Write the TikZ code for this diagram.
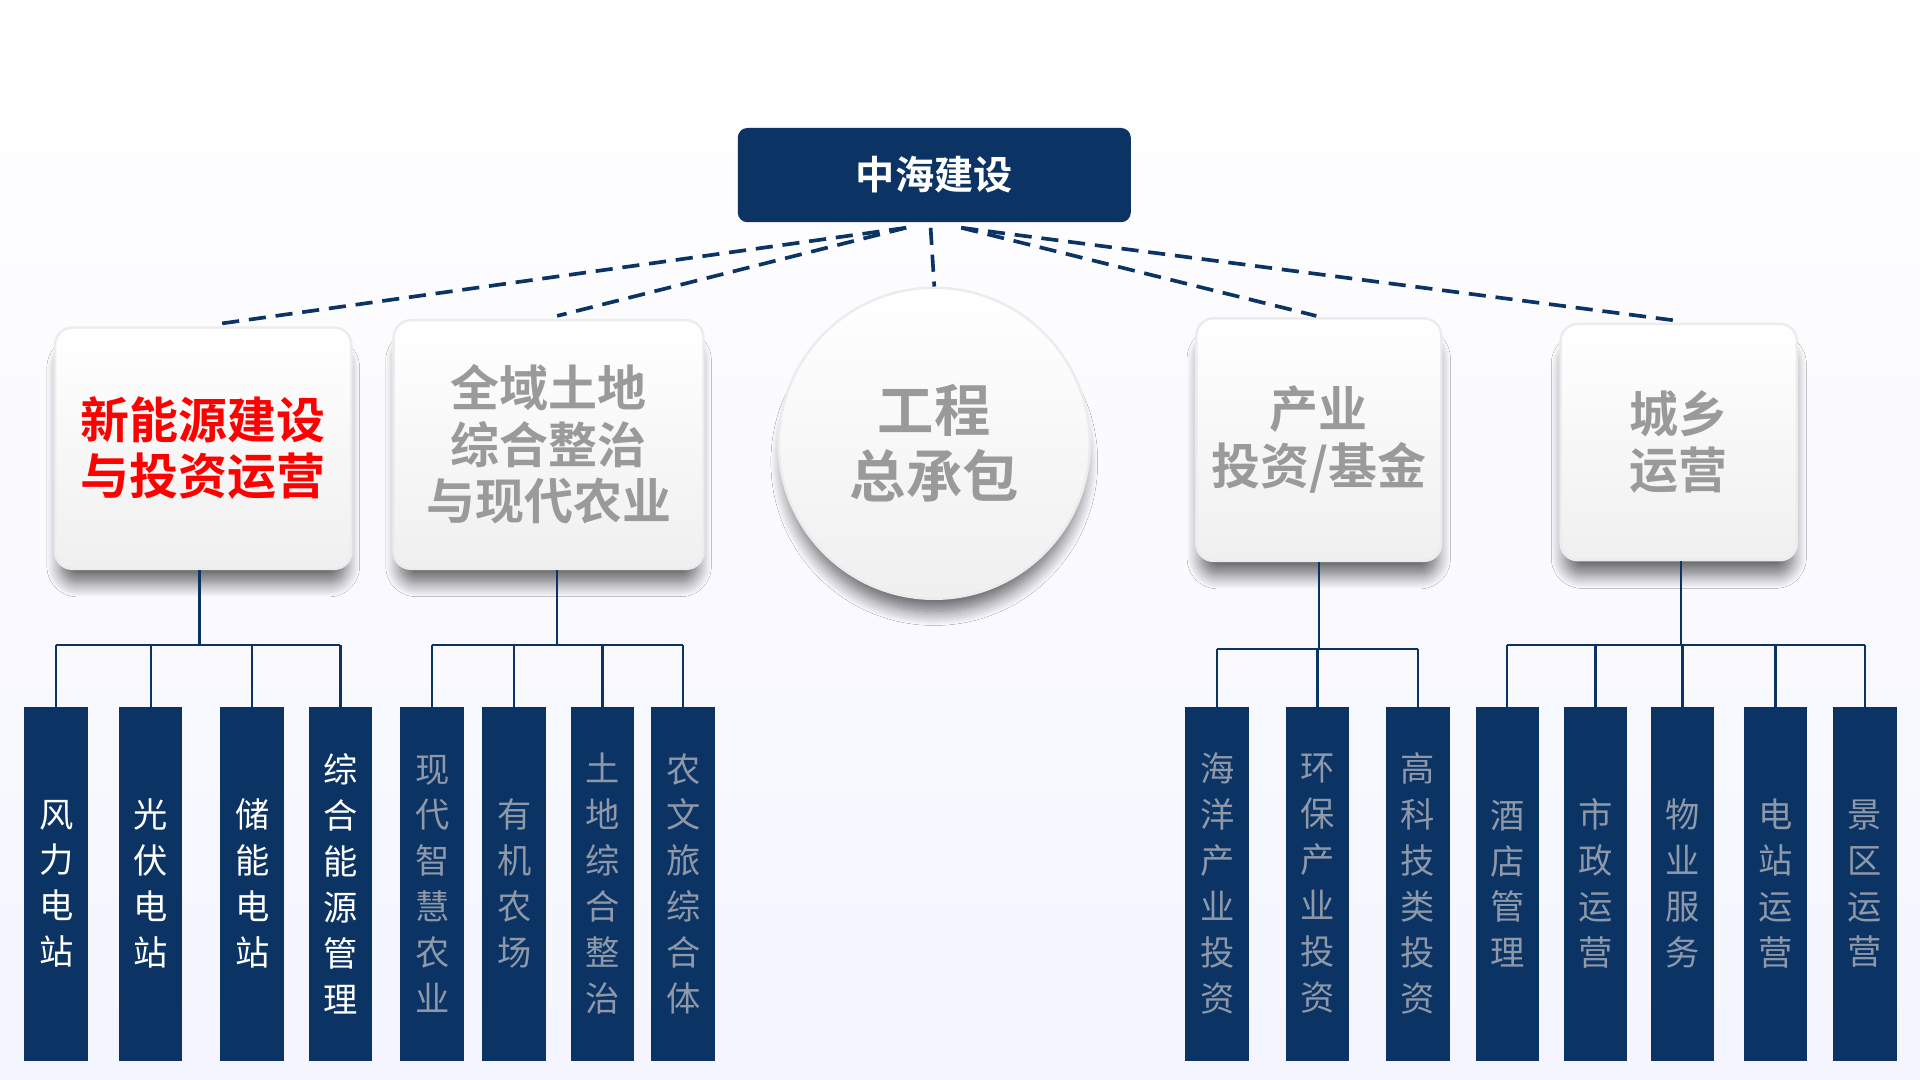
\documentclass[tikz,border=0pt]{standalone}
\usepackage{fontspec}
\newfontfamily\cjk{Noto Sans CJK SC}
\newfontfamily\cjkb{Noto Sans CJK SC Bold}
\usetikzlibrary{shadows,shadows.blur}
\definecolor{navy}{HTML}{0B3464}
\definecolor{gtxt}{HTML}{9A9A9A}
\definecolor{ltxt}{HTML}{8E98A8}
\tikzset{
 x=1pt,y=-1pt,
 cat/.style={rounded corners=14pt,top color=white,bottom color=gray!12,draw=gray!15,line width=2pt,blur shadow={shadow xshift=0pt,shadow yshift=-16pt,shadow scale=0.96,shadow blur radius=12pt,shadow blur steps=15,shadow opacity=60},font=\cjkb\fontsize{40}{50}\selectfont,align=center,text=gtxt},
 leaf/.style={fill=navy,minimum width=52pt,minimum height=289pt,anchor=north,inner sep=0pt,font=\cjk\fontsize{28}{37.5}\selectfont,align=center},
 dl/.style={navy,dashed,dash pattern=on 14pt off 8pt,line width=3pt},
 tl/.style={navy,line width=1.8pt}
}
\begin{document}
\begin{tikzpicture}
\fill[top color=white,bottom color=blue!4] (0,0) rectangle (1568,882);
\useasboundingbox (0,0) rectangle (1568,882);
\node[fill=navy,rounded corners=8pt,minimum width=321pt,minimum height=77pt,text=white,font=\cjkb\fontsize{32}{40}\selectfont] (top) at (763,143) {中海建设};
\coordinate (t0) at (760,186);
\coordinate (t1) at (740,186);
\coordinate (t2) at (785,186);
\node[cat,minimum width=242pt,minimum height=197pt,text=red] (b1) at (166,366) {新能源建设\\[-4pt]与投资运营};
\node[cat,minimum width=253pt,minimum height=203pt] (b2) at (448,363) {全域土地\\[-4pt]综合整治\\[-4pt]与现代农业};
\node[cat,circle,minimum size=254pt,font=\cjkb\fontsize{46}{56}\selectfont] (b3) at (763,362) {工程\\[-2pt]总承包};
\node[cat,minimum width=200pt,minimum height=198pt] (b4) at (1077,359) {产业\\[-4pt]投资/基金};
\node[cat,minimum width=193pt,minimum height=193pt] (b5) at (1371,361) {城乡\\[-4pt]运营};
\draw[dl] (t1) -- (175,265);
\draw[dl] (t1) -- (455,258);
\draw[dl] (t0) -- (b3.north);
\draw[dl] (t2) -- (1075,258);
\draw[dl] (t2) -- (1370,262);
\foreach \n/\x/\t/\c in {l1/46/风\\力\\电\\站/white, l2/123/光\\伏\\电\\站/white, l3/206/储\\能\\电\\站/white, l4/278/综\\合\\能\\源\\管\\理/white,
 l5/353/现\\代\\智\\慧\\农\\业/ltxt, l6/420/有\\机\\农\\场/ltxt, l7/492/土\\地\\综\\合\\整\\治/ltxt, l8/558/农\\文\\旅\\综\\合\\体/ltxt,
 r1/994/海\\洋\\产\\业\\投\\资/ltxt, r2/1076/环\\保\\产\\业\\投\\资/ltxt, r3/1158/高\\科\\技\\类\\投\\资/ltxt,
 r4/1231/酒\\店\\管\\理/ltxt, r5/1303/市\\政\\运\\营/ltxt, r6/1374/物\\业\\服\\务/ltxt, r7/1450/电\\站\\运\\营/ltxt, r8/1523/景\\区\\运\\营/ltxt}
 {\node[leaf,text=\c] (\n) at (\x,577) {\t};}
\draw[tl] (b1.south -| 163,0) -- (163,527); \draw[tl] (46,527) -- (278,527);
\foreach \n in {l1,l2,l3,l4} \draw[tl] (\n.north) -- (\n.north |- 0,527);
\draw[tl] (b2.south -| 455,0) -- (455,527); \draw[tl] (353,527) -- (558,527);
\foreach \n in {l5,l6,l7,l8} \draw[tl] (\n.north) -- (\n.north |- 0,527);
\draw[tl] (b4.south) -- (1077,530); \draw[tl] (994,530) -- (1158,530);
\foreach \n in {r1,r2,r3} \draw[tl] (\n.north) -- (\n.north |- 0,530);
\draw[tl] (b5.south -| 1373,0) -- (1373,527); \draw[tl] (1231,527) -- (1523,527);
\foreach \n in {r4,r5,r6,r7,r8} \draw[tl] (\n.north) -- (\n.north |- 0,527);
\end{tikzpicture}
\end{document}
